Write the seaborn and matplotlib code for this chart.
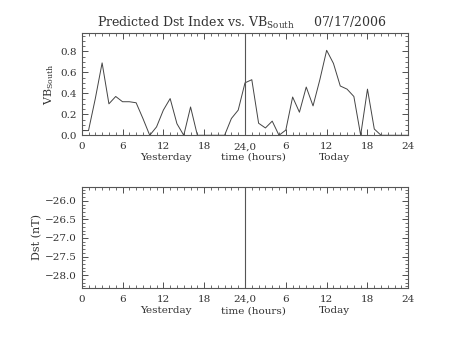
import matplotlib
matplotlib.use("Agg")
import matplotlib.pyplot as plt
from matplotlib.ticker import FixedLocator, MultipleLocator
import seaborn as sns
import pandas as pd

# ---- data ----
hours = list(range(49))
vb_south = [0.045, 0.045, 0.35, 0.69, 0.30, 0.37, 0.32, 0.32, 0.31, 0.16,
            0.0, 0.08, 0.24, 0.35, 0.11, 0.0, 0.27, 0.0, 0.0, 0.0,
            0.0, 0.0, 0.16, 0.24, 0.50, 0.53, 0.115, 0.07, 0.135, 0.0,
            0.05, 0.365, 0.22, 0.46, 0.28, 0.53, 0.81, 0.685, 0.47, 0.44,
            0.37, 0.0, 0.44, 0.06, 0.0, 0.0, 0.0, 0.0, 0.0]
dst_hours = []
dst_values = []
xtick_pos = [0, 6, 12, 18, 24, 30, 36, 42, 48]
xtick_labels = ["0", "6", "12", "18", "24,0", "6", "12", "18", "24"]
vb_ticks = [0.0, 0.2, 0.4, 0.6, 0.8]
dst_ticks = [-28.0, -27.5, -27.0, -26.5, -26.0]
title_text = "Predicted Dst Index vs. VB$_{\\mathrm{South}}$     07/17/2006"
date_label = ["Yesterday", "time (hours)", "Today"]
date_pos = [12.4, 25.3, 37.2]

sns.set_style("ticks")
plt.rcParams["font.family"] = ["DejaVu Serif"]
plt.rcParams["mathtext.fontset"] = "dejavuserif"
ink = "#333333"
plt.rcParams.update({"text.color": ink, "axes.labelcolor": ink,
                     "xtick.color": ink, "ytick.color": ink,
                     "axes.edgecolor": "#555555", "axes.linewidth": 0.8})

W, H = 453, 340
fig = plt.figure(figsize=(W / 100, H / 100), dpi=100)

def frac(l, t, r, b):
    return [l / W, 1 - b / H, (r - l) / W, (b - t) / H]

ax1 = fig.add_axes(frac(81.7, 33, 408.3, 135.3))
ax2 = fig.add_axes(frac(81.7, 186.7, 408.3, 287.7))

df = pd.DataFrame({"hour": hours, "vb": vb_south})
sns.lineplot(data=df, x="hour", y="vb", ax=ax1, color="#444444", linewidth=0.7)
if dst_values:
    sns.lineplot(x=dst_hours, y=dst_values, ax=ax2, color="#444444", linewidth=0.7)

ax1.set_ylim(0, 0.975)
ax2.set_ylim(-28.34, -25.62)

for ax, dy in ((ax1, -0.215), (ax2, -0.23)):
    ax.set_xlim(0, 48)
    ax.axvline(24, color="#555555", linewidth=0.8)
    ax.xaxis.set_major_locator(FixedLocator(xtick_pos))
    ax.set_xticklabels(xtick_labels)
    ax.xaxis.set_minor_locator(MultipleLocator(1))
    ax.tick_params(which="both", direction="in", top=True, right=True,
                   labelsize=7.5)
    ax.tick_params(axis="x", which="major", pad=5)
    ax.tick_params(which="major", length=4, width=0.6)
    ax.tick_params(which="minor", length=2, width=0.5)
    for s in ax.spines.values():
        s.set_visible(True)
    ax.set_xlabel("")
    for lab, p in zip(date_label, date_pos):
        ax.text(p, dy, lab, transform=ax.get_xaxis_transform(),
                ha="center", va="center", fontsize=7.5)

ax1.yaxis.set_major_locator(FixedLocator(vb_ticks))
ax1.set_yticklabels([f"{v:.1f}" for v in vb_ticks])
ax1.yaxis.set_minor_locator(MultipleLocator(0.05))
ax1.set_ylabel("VB$_{\\mathrm{South}}$", fontsize=8)
ax1.yaxis.set_label_coords(-0.079, 0.5)

ax2.yaxis.set_major_locator(FixedLocator(dst_ticks))
ax2.set_yticklabels([f"{v:.1f}".replace("-", "\u2212") for v in dst_ticks])
ax2.yaxis.set_minor_locator(MultipleLocator(0.1))
ax2.set_ylabel("Dst (nT)", fontsize=8)
ax2.yaxis.set_label_coords(-0.12, 0.5)

fig.text(241.5 / W, 1 - 23 / H, title_text, ha="center", va="center", fontsize=9)

fig.savefig("out.png", dpi=100, facecolor="white")
